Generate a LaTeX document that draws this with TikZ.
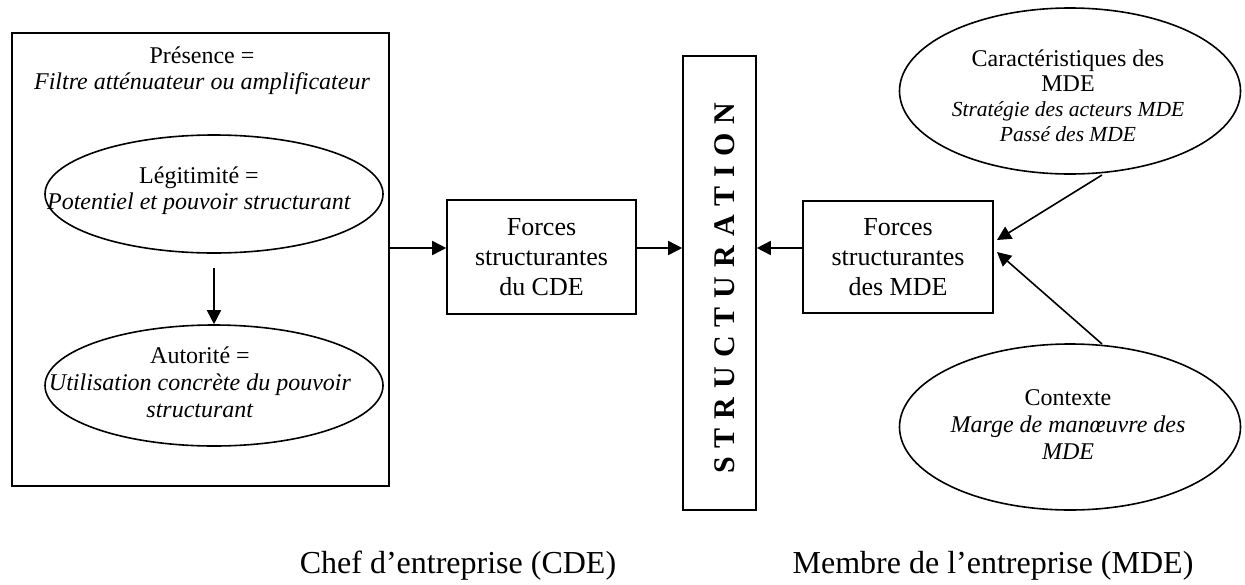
\documentclass[tikz,border=0pt]{standalone}
\usepackage{fontspec}
\setmainfont{Liberation Serif}
\usetikzlibrary{shapes.geometric,arrows.meta}
\begin{document}
\begin{tikzpicture}[x=1pt,y=-1pt,
  lw/.style={line width=1.6pt},
  arr/.style={lw,-{Triangle[length=14pt,width=14pt]}},
  box/.style={draw,lw,rectangle,inner sep=0pt},
  ell/.style={draw,lw,ellipse,inner sep=0pt},
  txt/.style={font=\fontsize{24}{26}\selectfont,align=center},
  big/.style={font=\fontsize{26}{30}\selectfont,align=center},
  captext/.style={font=\fontsize{32}{36}\selectfont}]
\useasboundingbox (0,0) rectangle (1245,584);
\fill[white] (0,0) rectangle (1245,584);
% left frame
\node[box,minimum width=377pt,minimum height=453pt] (cdebox) at (200.5,259.5) {};
\node[txt] (pres) at (202,71) {Présence =\\\textit{Filtre atténuateur ou amplificateur}};
\node[ell,minimum width=338pt,minimum height=118pt] (leg) at (214,194) {};
\node[txt] (legtxt) at (199,191) {Légitimité =\\\textit{Potentiel et pouvoir structurant}};
\node[ell,minimum width=338pt,minimum height=121pt] (aut) at (214,385.5) {};
\node[txt,font=\fontsize{24}{27}\selectfont] (auttxt) at (200,382) {Autorité =\\\textit{Utilisation concrète du pouvoir}\\\textit{structurant}};
% centre boxes
\node[box,big,minimum width=189pt,minimum height=114pt] (fcde) at (541.5,257) {Forces\\structurantes\\du CDE};
\node[box,minimum width=73pt,minimum height=454pt] (struct) at (719.5,283) {};
\node[rotate=90,font=\fontsize{30}{32}\selectfont\bfseries,inner sep=0pt] (structtxt) at (725,288)
  {S\hspace{9pt}T\hspace{9pt}R\hspace{9pt}U\hspace{9pt}C\hspace{9pt}T\hspace{9pt}U\hspace{9pt}R\hspace{9pt}A\hspace{9pt}T\hspace{9pt}I\hspace{9pt}O\hspace{9pt}N};
\node[box,big,minimum width=190pt,minimum height=112pt] (fmde) at (898,257) {Forces\\structurantes\\des MDE};
% right ellipses
\node[ell,minimum width=341pt,minimum height=166pt] (car) at (1070,91) {};
\node[txt,font=\fontsize{24}{25}\selectfont] (cartxt) at (1068,96) {Caractéristiques des\\MDE\\{\fontsize{21.5}{25}\selectfont\itshape Stratégie des acteurs MDE}\\{\fontsize{21.5}{25}\selectfont\itshape Passé des MDE}};
\node[ell,minimum width=341pt,minimum height=166pt] (ctx) at (1070,427) {};
\node[txt,font=\fontsize{24}{27}\selectfont] (ctxtxt) at (1068,425) {Contexte\\\textit{Marge de manœuvre des}\\\textit{MDE}};
% bottom captions
\node[captext] (lcde) at (458,566) {Chef d’entreprise (CDE)};
\node[captext] (lmde) at (993,566) {Membre de l’entreprise (MDE)};
% connectors
\coordinate (ay) at (0,248);
\draw[arr,shorten <=14pt] (leg) -- (aut);
\draw[arr] (cdebox.east |- ay) -- (fcde.west |- ay);
\draw[arr] (fcde.east |- ay) -- (struct.west |- ay);
\draw[arr] (fmde.west |- ay) -- (struct.east |- ay);
\coordinate (c1) at (1102,175);
\coordinate (t1) at (997,240);
\coordinate (c2) at (1102,344);
\coordinate (t2) at (997,252);
\draw[arr] (c1) -- (t1);
\draw[arr] (c2) -- (t2);
\end{tikzpicture}
\end{document}
